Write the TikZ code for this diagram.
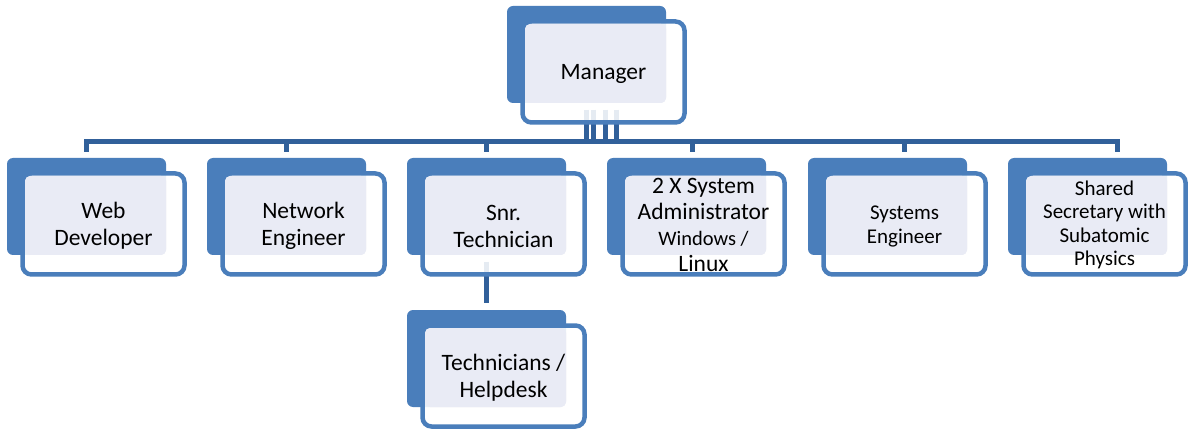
\documentclass[tikz,border=0pt]{standalone}
\usepackage{fontspec}
\setmainfont{Carlito}
\definecolor{cblue}{HTML}{4A7EBB}
\definecolor{cdark}{HTML}{31609A}
\definecolor{clav}{HTML}{E9EBF5}
\tikzset{
  bluebox/.style={fill=cblue, rounded corners=6pt, minimum width=159pt, minimum height=97pt, inner sep=0pt, outer sep=0pt, anchor=north west},
  outbox/.style={draw=cblue, line width=4.5pt, fill=white, fill opacity=0.88, rounded corners=9pt, minimum width=162pt, minimum height=101pt, inner sep=0pt, outer sep=0pt, anchor=north west},
  lavbox/.style={fill=clav, rounded corners=5pt, minimum width=141pt, minimum height=79pt, inner sep=0pt, outer sep=0pt, anchor=north west},
  lbl/.style={align=center, text=black, inner sep=0pt, font=\fontsize{23.5}{27}\selectfont},
  conn/.style={draw=cdark, line width=5.5pt}
}
\newcommand\orgunit[3]{%
  \node[bluebox] (#1B) at (#2,#3) {};
  \node[outbox] (#1O) at (#2+15.5,#3+15.5) {};
  \node[lavbox] (#1L) at (#2+18,#3+18) {};
}
\begin{document}
\begin{tikzpicture}[x=1pt,y=-1pt]
\fill[white] (0,0) rectangle (1188,430);
\useasboundingbox (0,0) rectangle (1188,430);
\coordinate (bus) at (0,141.5);
% invisible anchors for connector geometry (boxes drawn after connectors)
\path (507,6) node[bluebox, fill=none] (mgrP) {};
\path (7,158) node[bluebox, fill=none] (webP) {};
\path (207,158) node[bluebox, fill=none] (netP) {};
\path (407,158) node[bluebox, fill=none] (sntP) {};
\path (607,158) node[bluebox, fill=none] (sysP) {};
\path (808,158) node[bluebox, fill=none] (sengP) {};
\path (1008,158) node[bluebox, fill=none] (secP) {};
\path (407,310) node[bluebox, fill=none] (tecP) {};
% connectors
\coordinate (busW) at (webP.north |- bus);
\coordinate (busE) at ([xshift=30pt]secP.north |- bus);
\draw[conn, line cap=rect] (busW) -- (busE);
\draw[conn] (webP.north |- bus) -- ([yshift=6pt]webP.north);
\draw[conn] (netP.north |- bus) -- ([yshift=6pt]netP.north);
\draw[conn] (sntP.north |- bus) -- ([yshift=6pt]sntP.north);
\draw[conn] ([xshift=6pt]sysP.north |- bus) -- ([xshift=6pt,yshift=6pt]sysP.north);
\draw[conn] ([xshift=17pt]sengP.north |- bus) -- ([xshift=17pt,yshift=6pt]sengP.north);
\draw[conn] ([xshift=30pt]secP.north |- bus) -- ([xshift=30pt,yshift=6pt]secP.north);
\foreach \dx in {0,7,19,30}
  \draw[conn] ([xshift=\dx pt,yshift=-7pt]mgrP.south) -- ([xshift=\dx pt]mgrP.south |- bus);
\draw[conn] ([yshift=-7pt]sntP.south) -- ([yshift=7pt]tecP.north);
% boxes
\orgunit{mgr}{507}{6}
\orgunit{web}{7}{158}
\orgunit{net}{207}{158}
\orgunit{snt}{407}{158}
\orgunit{sys}{607}{158}
\orgunit{seng}{808}{158}
\orgunit{sec}{1008}{158}
\orgunit{tec}{407}{310}
% labels
\node[lbl] (mgr) at ([yshift=-2pt]mgrO.center) {Manager};
\node[lbl] (web) at ([yshift=-2pt]webO.center) {Web\\Developer};
\node[lbl] (net) at ([yshift=-2pt]netO.center) {Network\\Engineer};
\node[lbl] (snt) at ([yshift=-2pt]sntO.center) {Snr.\\Technician};
\node[lbl, font=\fontsize{23.5}{26}\selectfont] (sys) at ([yshift=-1pt]sysO.center) {2 X System\\Administrator\\\fontsize{20.5}{23.5}\selectfont Windows /\\Linux};
\node[lbl, font=\fontsize{21}{23.5}\selectfont] (seng) at ([yshift=-2.5pt]sengO.center) {Systems\\Engineer};
\node[lbl, font=\fontsize{21}{23.5}\selectfont] (sec) at ([yshift=-1pt]secO.center) {Shared\\Secretary with\\Subatomic\\Physics};
\node[lbl] (tec) at ([yshift=-2pt]tecO.center) {Technicians /\\Helpdesk};
\end{tikzpicture}
\end{document}
